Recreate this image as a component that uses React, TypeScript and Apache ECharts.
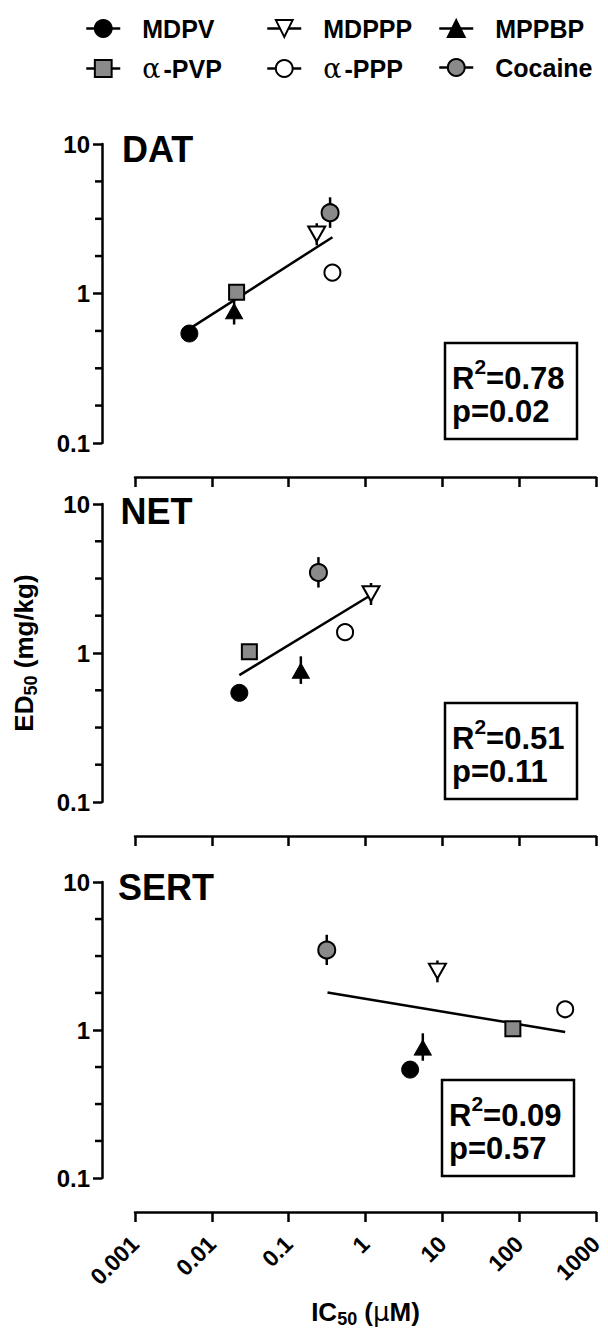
import React, { useEffect, useRef } from 'react';
import * as echarts from 'echarts';

// ---------------- data ----------------
const compounds = ['MDPV', 'MDPPP', 'MPPBP', 'α-PVP', 'α-PPP', 'Cocaine'];
const ed50 = [0.54, 2.5, 0.76, 1.02, 1.38, 3.47];
const ed50Low = [0.51, 2.1, 0.62, 0.96, 1.31, 2.75];
const ed50High = [0.57, 2.95, 0.95, 1.08, 1.45, 4.4];
const panels = ['DAT', 'NET', 'SERT'];
const ic50DAT = [0.0051, 0.232, 0.0195, 0.021, 0.371, 0.346];
const ic50NET = [0.0228, 1.18, 0.144, 0.0308, 0.542, 0.244];
const ic50SERT = [3.81, 8.63, 5.57, 82.8, 397, 0.313];
const fitDAT = [[0.0051, 0.58], [0.371, 2.38]];
const fitNET = [[0.0228, 0.71], [1.18, 2.45]];
const fitSERT = [[0.32, 1.79], [397, 0.97]];
const r2Values = ['0.78', '0.51', '0.09'];
const pValues = ['0.02', '0.11', '0.57'];
const xTickLabels = ['0.001', '0.01', '0.1', '1', '10', '100', '1000'];
const yTickLabels = ['0.1', '1', '10'];
const yMinorTicks = [0.178, 0.316, 0.562, 1.78, 3.16, 5.62];
const legendColumns = [['MDPV', 'α-PVP'], ['MDPPP', 'α-PPP'], ['MPPBP', 'Cocaine']];

// ---------------- styles / layout ----------------
const F = '"Liberation Sans", Arial, Helvetica, sans-serif';
const GRAY = '#8a8a8a';
const markerStyles: Record<string, any> = {
  'MDPV': { symbol: 'circle', symbolSize: 17, symbolRotate: 0, itemStyle: { color: '#000', borderColor: '#000', borderWidth: 1 } },
  'MDPPP': { symbol: 'triangle', symbolSize: [17, 15], symbolRotate: 180, itemStyle: { color: '#fff', borderColor: '#000', borderWidth: 2 } },
  'MPPBP': { symbol: 'triangle', symbolSize: [17, 15], symbolRotate: 0, itemStyle: { color: '#000', borderColor: '#000', borderWidth: 1 } },
  'α-PVP': { symbol: 'rect', symbolSize: 15, symbolRotate: 0, itemStyle: { color: GRAY, borderColor: '#000', borderWidth: 2 } },
  'α-PPP': { symbol: 'circle', symbolSize: 16, symbolRotate: 0, itemStyle: { color: '#fff', borderColor: '#000', borderWidth: 2 } },
  'Cocaine': { symbol: 'circle', symbolSize: 17, symbolRotate: 0, itemStyle: { color: GRAY, borderColor: '#000', borderWidth: 2 } },
};
const GRID_LEFT = 135;
const GRID_W = 461;
const Y_OFFSET = 33;
const MINOR_LEN = 7;
const gridTops = [144, 504, 882];
const gridHeights = [299, 298, 296];
const titlePos = [[122, 131], [120.5, 493], [118, 869]];
const boxPos = [[445, 343], [445, 703], [442, 1080]];
const legendLefts = [85, 266, 438];
const AX_W = 2.5;

function boxElements() {
  const elements: any[] = [];
  panels.forEach((_, g) => {
    const [bx, by] = boxPos[g];
    elements.push({
      id: 'box' + g, type: 'rect', z: 10,
      shape: { x: bx, y: by, width: 132, height: 96 },
      style: { fill: '#fff', stroke: '#000', lineWidth: 2.5 },
    });
    elements.push({
      id: 'r2' + g, type: 'text', z: 11, x: bx + 7, y: by + 35,
      style: {
        text: '{r|R}{s|2}{r|=' + r2Values[g] + '}',
        verticalAlign: 'middle', textVerticalAlign: 'middle', align: 'left', textAlign: 'left',
        rich: {
          r: { fontSize: 31, fontWeight: 'bold', fontFamily: F, fill: '#000', lineHeight: 44 },
          s: { fontSize: 21, fontWeight: 'bold', fontFamily: F, fill: '#000', lineHeight: 21, verticalAlign: 'top' },
        },
      },
    });
    elements.push({
      id: 'p' + g, type: 'text', z: 11, x: bx + 7, y: by + 68,
      style: {
        text: 'p=' + pValues[g],
        fontSize: 31, fontWeight: 'bold', fontFamily: F, fill: '#000',
        verticalAlign: 'middle', textVerticalAlign: 'middle', align: 'left', textAlign: 'left',
      },
    });
  });
  return elements;
}

function buildOption() {
  const icSets = [ic50DAT, ic50NET, ic50SERT];
  const fits = [fitDAT, fitNET, fitSERT];

  const grid = panels.map((_, g) => ({
    left: GRID_LEFT, top: gridTops[g], width: GRID_W, height: gridHeights[g],
    containLabel: false, outerBoundsMode: 'none',
  }));

  const xAxis: any[] = panels.map((_, g) => ({
    type: 'log', logBase: 10, gridIndex: g, min: 0.001, max: 1000,
    position: 'bottom', offset: 34,
    axisLine: { show: true, onZero: false, lineStyle: { color: '#000', width: AX_W } },
    axisTick: { show: true, length: 10, lineStyle: { color: '#000', width: AX_W } },
    axisLabel: {
      show: g === 2, rotate: 45, margin: 28, fontSize: 23, fontWeight: 'bold', fontFamily: F, color: '#000',
      formatter: (v: number) => xTickLabels[Math.round(Math.log10(v)) + 3],
    },
    splitLine: { show: false },
    minorTick: { show: false },
    ...(g === 2 ? {
      name: '{m|IC}{sub|50}{m| (}{mu|μ}{m|M)}',
      nameLocation: 'middle', nameGap: 84,
      nameTextStyle: {
        color: '#000', fontSize: 26, fontWeight: 'bold', fontFamily: F, lineHeight: 32,
        rich: {
          m: { fontSize: 26, fontWeight: 'bold', fontFamily: F, color: '#000', lineHeight: 32 },
          sub: { fontSize: 18, fontWeight: 'bold', fontFamily: F, color: '#000', lineHeight: 18, verticalAlign: 'bottom' },
          mu: { fontSize: 26, fontWeight: 'normal', fontFamily: '"DejaVu Sans", sans-serif', color: '#000', lineHeight: 32 },
        },
      },
    } : {}),
  }));

  const yAxis: any[] = panels.map((_, g) => ({
    type: 'log', logBase: 10, gridIndex: g, min: 0.1, max: 10, position: 'left', offset: Y_OFFSET,
    axisLine: { show: true, onZero: false, lineStyle: { color: '#000', width: AX_W } },
    axisTick: { show: true, length: 9, lineStyle: { color: '#000', width: AX_W } },
    minorTick: { show: false },
    axisLabel: {
      show: true, margin: 12, fontSize: 24, fontWeight: 'bold', fontFamily: F, color: '#000',
      formatter: (v: number) => yTickLabels[Math.round(Math.log10(v)) + 1],
    },
    splitLine: { show: false },
    ...(g === 1 ? {
      name: '{m|ED}{sub|50}{m| (mg/kg)}',
      nameLocation: 'middle', nameGap: 62, nameRotate: 90,
      nameTextStyle: {
        color: '#000', fontSize: 26, fontWeight: 'bold', fontFamily: F, lineHeight: 32,
        rich: {
          m: { fontSize: 26, fontWeight: 'bold', fontFamily: F, color: '#000', lineHeight: 32 },
          sub: { fontSize: 18, fontWeight: 'bold', fontFamily: F, color: '#000', lineHeight: 18, verticalAlign: 'bottom' },
        },
      },
    } : {}),
  }));

  const series: any[] = [];
  panels.forEach((p, g) => {
    series.push({
      type: 'line', name: 'fit ' + p, xAxisIndex: g, yAxisIndex: g,
      data: fits[g], symbol: 'none', silent: true, z: 1,
      lineStyle: { color: '#000', width: 2.5 },
    });
    series.push({
      type: 'custom', name: 'error ' + p, coordinateSystem: 'cartesian2d',
      xAxisIndex: g, yAxisIndex: g, z: 2, silent: true,
      encode: { x: 0, y: [1, 2] },
      data: compounds.map((_, i) => [icSets[g][i], ed50Low[i], ed50High[i]]),
      renderItem: (params: any, api: any) => {
        const x = api.value(0);
        const a = api.coord([x, api.value(1)]);
        const b = api.coord([x, api.value(2)]);
        return {
          type: 'line',
          shape: { x1: a[0], y1: a[1], x2: b[0], y2: b[1] },
          style: { stroke: '#000', lineWidth: 2.5 },
        };
      },
    });
    compounds.forEach((c, i) => {
      const m = markerStyles[c];
      series.push({
        type: 'line', name: c, xAxisIndex: g, yAxisIndex: g, z: 3,
        data: [[icSets[g][i], ed50[i]]],
        showSymbol: true, symbol: m.symbol, symbolSize: m.symbolSize, symbolRotate: m.symbolRotate,
        itemStyle: m.itemStyle,
        lineStyle: { color: '#000', width: 2.5 },
        emphasis: { disabled: true },
      });
    });
  });

  const legendRich = {
    sp: { width: 17, lineHeight: 21 },
    a: { fontSize: 27, fontWeight: 'normal', fontFamily: '"DejaVu Serif", serif', color: '#000', lineHeight: 21, padding: [0, 3, 0, 0] },
    t: { fontSize: 25, fontWeight: 'bold', fontFamily: F, color: '#000', lineHeight: 21 },
  };
  const legend = legendColumns.map((names, k) => ({
    data: names, orient: 'vertical', left: legendLefts[k], top: 16, padding: 0,
    itemWidth: 34, itemHeight: 21, itemGap: 14, selectedMode: false,
    lineStyle: { color: '#000', width: 2.5, opacity: 1 },
    textStyle: { fontSize: 25, fontWeight: 'bold', fontFamily: F, color: '#000', lineHeight: 21, rich: legendRich },
    formatter: (name: string) =>
      name.startsWith('α') ? '{sp|}{a|α}{t|' + name.slice(1) + '}' : '{sp|}{t|' + name + '}',
  }));

  const title = panels.map((p, g) => ({
    text: p, left: titlePos[g][0], top: titlePos[g][1], padding: 0,
    textStyle: { fontSize: 36, fontWeight: 'bold', fontFamily: F, color: '#000', lineHeight: 36 },
  }));

  return {
    animation: false,
    backgroundColor: '#fff',
    textStyle: { fontFamily: F },
    title, legend, grid, xAxis, yAxis, series,
    graphic: { elements: boxElements() },
  };
}

export default function App() {
  const ref = useRef<HTMLDivElement>(null);
  useEffect(() => {
    if (!ref.current) return;
    const chart = echarts.init(ref.current, null, { renderer: 'svg' });
    chart.setOption(buildOption() as any);
    // minor ticks of the ED50 axes, positioned through each panel's log scale
    try {
      const ticks: any[] = [];
      panels.forEach((_, g) => {
        yMinorTicks.forEach((v, k) => {
          const pt = chart.convertToPixel({ xAxisIndex: g, yAxisIndex: g } as any, [0.001, v]) as any;
          if (!pt || !isFinite(pt[0]) || !isFinite(pt[1])) return;
          const ax = pt[0] - Y_OFFSET;
          ticks.push({
            id: 'mt' + g + '_' + k, type: 'line', z: 100, silent: true,
            shape: { x1: ax, y1: pt[1], x2: ax - MINOR_LEN, y2: pt[1] },
            style: { stroke: '#000', lineWidth: AX_W },
          });
        });
      });
      if (ticks.length) chart.setOption({ graphic: { elements: [...boxElements(), ...ticks] } } as any);
    } catch (e) {
      // keep the chart as drawn
    }
    return () => chart.dispose();
  }, []);
  return <div ref={ref} style={{ position: 'fixed', left: 0, top: 0, width: 608, height: 1333 }} />;
}
